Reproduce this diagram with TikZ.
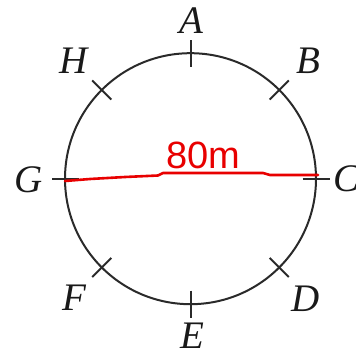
\documentclass[tikz,border=0pt]{standalone}
\usepackage{fontspec}
\setmainfont{Liberation Serif}
\newfontfamily\handfont{Liberation Sans}
\usetikzlibrary{calc}
\definecolor{ink}{HTML}{2A2A2A}
\definecolor{redpen}{HTML}{E80000}
\tikzset{
  circ/.style={draw=ink, line width=2pt},
  tickmark/.style={draw=ink, line width=2pt},
  lbl/.style={inner sep=0pt, text=black!90, font=\fontsize{39}{42}\selectfont\itshape},
  redline/.style={draw=redpen, line width=2.6pt, line cap=round, line join=round},
  redtext/.style={inner sep=0pt, text=redpen, font=\handfont\fontsize{38}{40}\selectfont}
}
\begin{document}
\begin{tikzpicture}[x=1pt, y=-1pt]
  \useasboundingbox (0,0) rectangle (356,355);
  \coordinate (O) at (190.5,178.7);
  \draw[circ] (O) circle[radius=125.5];
  \foreach \a in {-90,-45,0,45,90,135,180,-135} {
    \draw[tickmark] ($(O)+(\a:112)$) -- ($(O)+(\a:139)$);
  }
  \node[lbl] (A) at (191,21) {A};
  \node[lbl] (B) at (308,61) {B};
  \node[lbl] (C) at (347,179) {C};
  \node[lbl] (D) at (306,299) {D};
  \node[lbl] (E) at (192,336) {E};
  \node[lbl] (F) at (74,298) {F};
  \node[lbl] (G) at (29,180) {G};
  \node[lbl] (H) at (74,61) {H};
  \coordinate (gl) at (65,181);
  \coordinate (cr) at (318,175);
  \draw[redline] (gl) -- (90,179) -- (125,177) -- (158,175.5) -- (163,173) -- (263,173) -- (270,175) -- (cr);
  \node[redtext] (len) at (203,155) {80m};
\end{tikzpicture}
\end{document}
